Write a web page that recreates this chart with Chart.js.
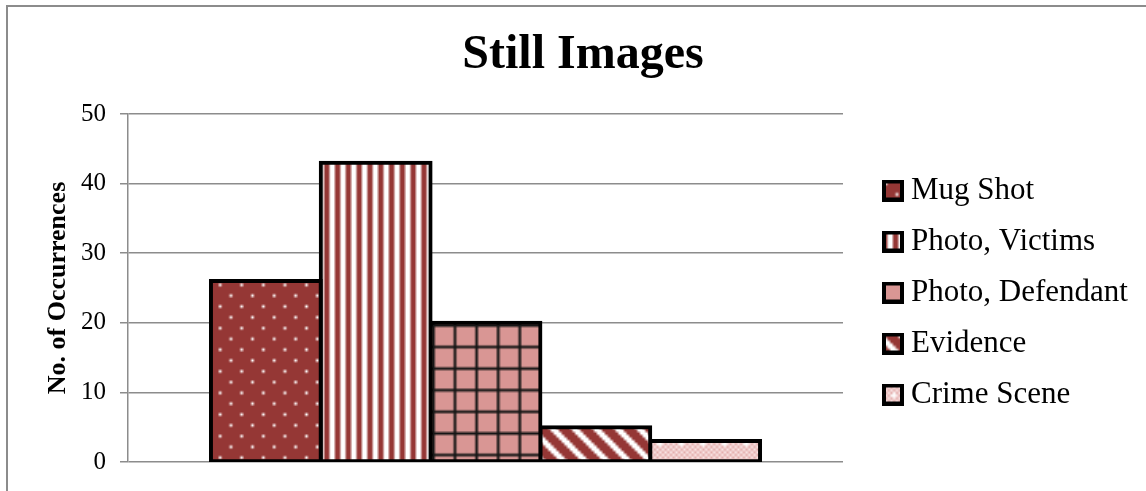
<!DOCTYPE html>
<html>
<head>
<meta charset="utf-8">
<script src="https://cdn.jsdelivr.net/npm/chart.js@4.4.1/dist/chart.umd.min.js"></script>
<style>
  html, body { margin: 0; padding: 0; background: #ffffff; }
  canvas { display: block; }
</style>
</head>
<body>
<canvas id="c" width="1146" height="491"></canvas>
<script>
// Chart content
const chartTitle = 'Still Images';
const axisTitle = 'No. of Occurrences';
const categories = [''];
const seriesNames = ['Mug Shot', 'Photo, Victims', 'Photo, Defendant', 'Evidence', 'Crime Scene'];
const seriesValues = [26, 43, 20, 5, 3];
const yTicks = [0, 10, 20, 30, 40, 50];

// Palette
const DARK = '#953735';
const PINK = '#d99694';
const WHITE = '#ffffff';
const SERIF = "'Liberation Serif', 'Times New Roman', serif";

// 8x8 hatch tiles, one per series
function px(g, x, y, c) { g.fillStyle = c; g.fillRect(x, y, 1, 1); }
const painters = [
  // small dots on dark red
  g => { g.fillStyle = DARK; g.fillRect(0, 0, 8, 8); px(g, 1, 1, WHITE); px(g, 5, 5, WHITE); },
  // vertical stripes
  g => {
    g.fillStyle = WHITE; g.fillRect(0, 0, 8, 8);
    g.fillStyle = DARK; g.fillRect(0, 0, 2, 8); g.fillRect(4, 0, 2, 8);
  },
  // large grid on pink
  g => {
    g.fillStyle = PINK; g.fillRect(0, 0, 8, 8);
    g.fillStyle = '#161616'; g.fillRect(0, 0, 8, 1); g.fillRect(0, 0, 1, 8);
  },
  // wide downward diagonal
  g => {
    for (let y = 0; y < 8; y++) for (let x = 0; x < 8; x++) {
      px(g, x, y, (((x - y) % 8) + 8) % 8 < 5 ? DARK : WHITE);
    }
  },
  // fine check with sparse white dots
  g => {
    for (let y = 0; y < 8; y++) for (let x = 0; x < 8; x++) {
      px(g, x, y, (x + y) % 2 === 0 ? '#e2a9a8' : '#fbeaea');
    }
    px(g, 4, 4, WHITE); px(g, 3, 4, WHITE); px(g, 4, 3, WHITE);
  }
];

function tilePattern(ctx, paint) {
  const t = document.createElement('canvas');
  t.width = 8; t.height = 8;
  paint(t.getContext('2d'));
  const p = ctx.createPattern(t, 'repeat');
  p.setTransform(new DOMMatrix().scale(2.7));
  return p;
}

// Legend swatch: hatch inside a heavy black frame
function swatch(paint) {
  const s = document.createElement('canvas');
  s.width = 22; s.height = 22;
  const g = s.getContext('2d');
  g.fillStyle = '#000000';
  g.fillRect(0, 0, 22, 22);
  g.fillStyle = tilePattern(g, paint);
  g.fillRect(4, 4, 14, 14);
  return s;
}

const canvas = document.getElementById('c');
const mainCtx = canvas.getContext('2d');
const fills = painters.map(p => tilePattern(mainCtx, p));
const swatches = painters.map(p => swatch(p));

// Thin grey frame around the whole chart
const framePlugin = {
  id: 'frame',
  beforeDraw(chart) {
    const ctx = chart.ctx;
    ctx.save();
    ctx.strokeStyle = '#8c8c8c';
    ctx.lineWidth = 2;
    ctx.strokeRect(7, 6, chart.width + 40, chart.height + 40);
    ctx.restore();
  }
};

const datasets = seriesNames.map((name, i) => ({
  label: name,
  data: [seriesValues[i]],
  backgroundColor: fills[i],
  borderColor: '#000000',
  borderWidth: 4,
  borderSkipped: false,
  inflateAmount: 2,
  categoryPercentage: 0.768,
  barPercentage: 1.0,
  xAxisID: 'x',
  yAxisID: 'y'
}));

new Chart(canvas, {
  type: 'bar',
  data: { labels: categories, datasets },
  plugins: [framePlugin],
  options: {
    responsive: false,
    animation: false,
    events: [],
    layout: { padding: { left: 33.5, right: 13.5, top: 0, bottom: 22 } },
    scales: {
      x: { display: false, offset: true },
      y: {
        position: 'left',
        min: yTicks[0],
        max: yTicks[yTicks.length - 1],
        ticks: {
          stepSize: yTicks[1] - yTicks[0],
          color: '#000000',
          font: { family: SERIF, size: 25 },
          padding: 14
        },
        grid: { color: '#8c8c8c', lineWidth: 1.5, tickLength: 8, drawTicks: true },
        border: { color: '#8c8c8c', width: 1.5 },
        title: {
          display: true,
          text: axisTitle,
          color: '#000000',
          font: { family: SERIF, size: 26, weight: 'bold', lineHeight: 1.2 },
          padding: { top: 8.9, bottom: 0 }
        },
        afterFit(scale) { scale.width = 94.5; }
      },
      // empty spacer between the plot and the legend
      gap: {
        type: 'linear',
        position: 'right',
        display: true,
        grid: { display: false },
        border: { display: false },
        ticks: { display: false },
        afterFit(scale) { scale.width = 27.5; }
      }
    },
    plugins: {
      tooltip: { enabled: false },
      title: {
        display: true,
        text: chartTitle,
        color: '#000000',
        font: { family: SERIF, size: 48, weight: 'bold', lineHeight: 1.2 },
        padding: { top: 27, bottom: 29.4 }
      },
      legend: {
        position: 'right',
        align: 'center',
        fullSize: false,
        maxWidth: 262,
        title: {
          display: true,
          text: '',
          font: { size: 1, lineHeight: 1 },
          padding: { top: 4, bottom: 4 }
        },
        labels: {
          usePointStyle: true,
          pointStyleWidth: 5,
          padding: 20,
          color: '#000000',
          font: { family: SERIF, size: 31 },
          generateLabels(chart) {
            const items = Chart.defaults.plugins.legend.labels.generateLabels(chart);
            items.forEach(it => { it.pointStyle = swatches[it.datasetIndex]; it.rotation = 0; });
            return items;
          }
        }
      }
    }
  }
});
</script>
</body>
</html>
